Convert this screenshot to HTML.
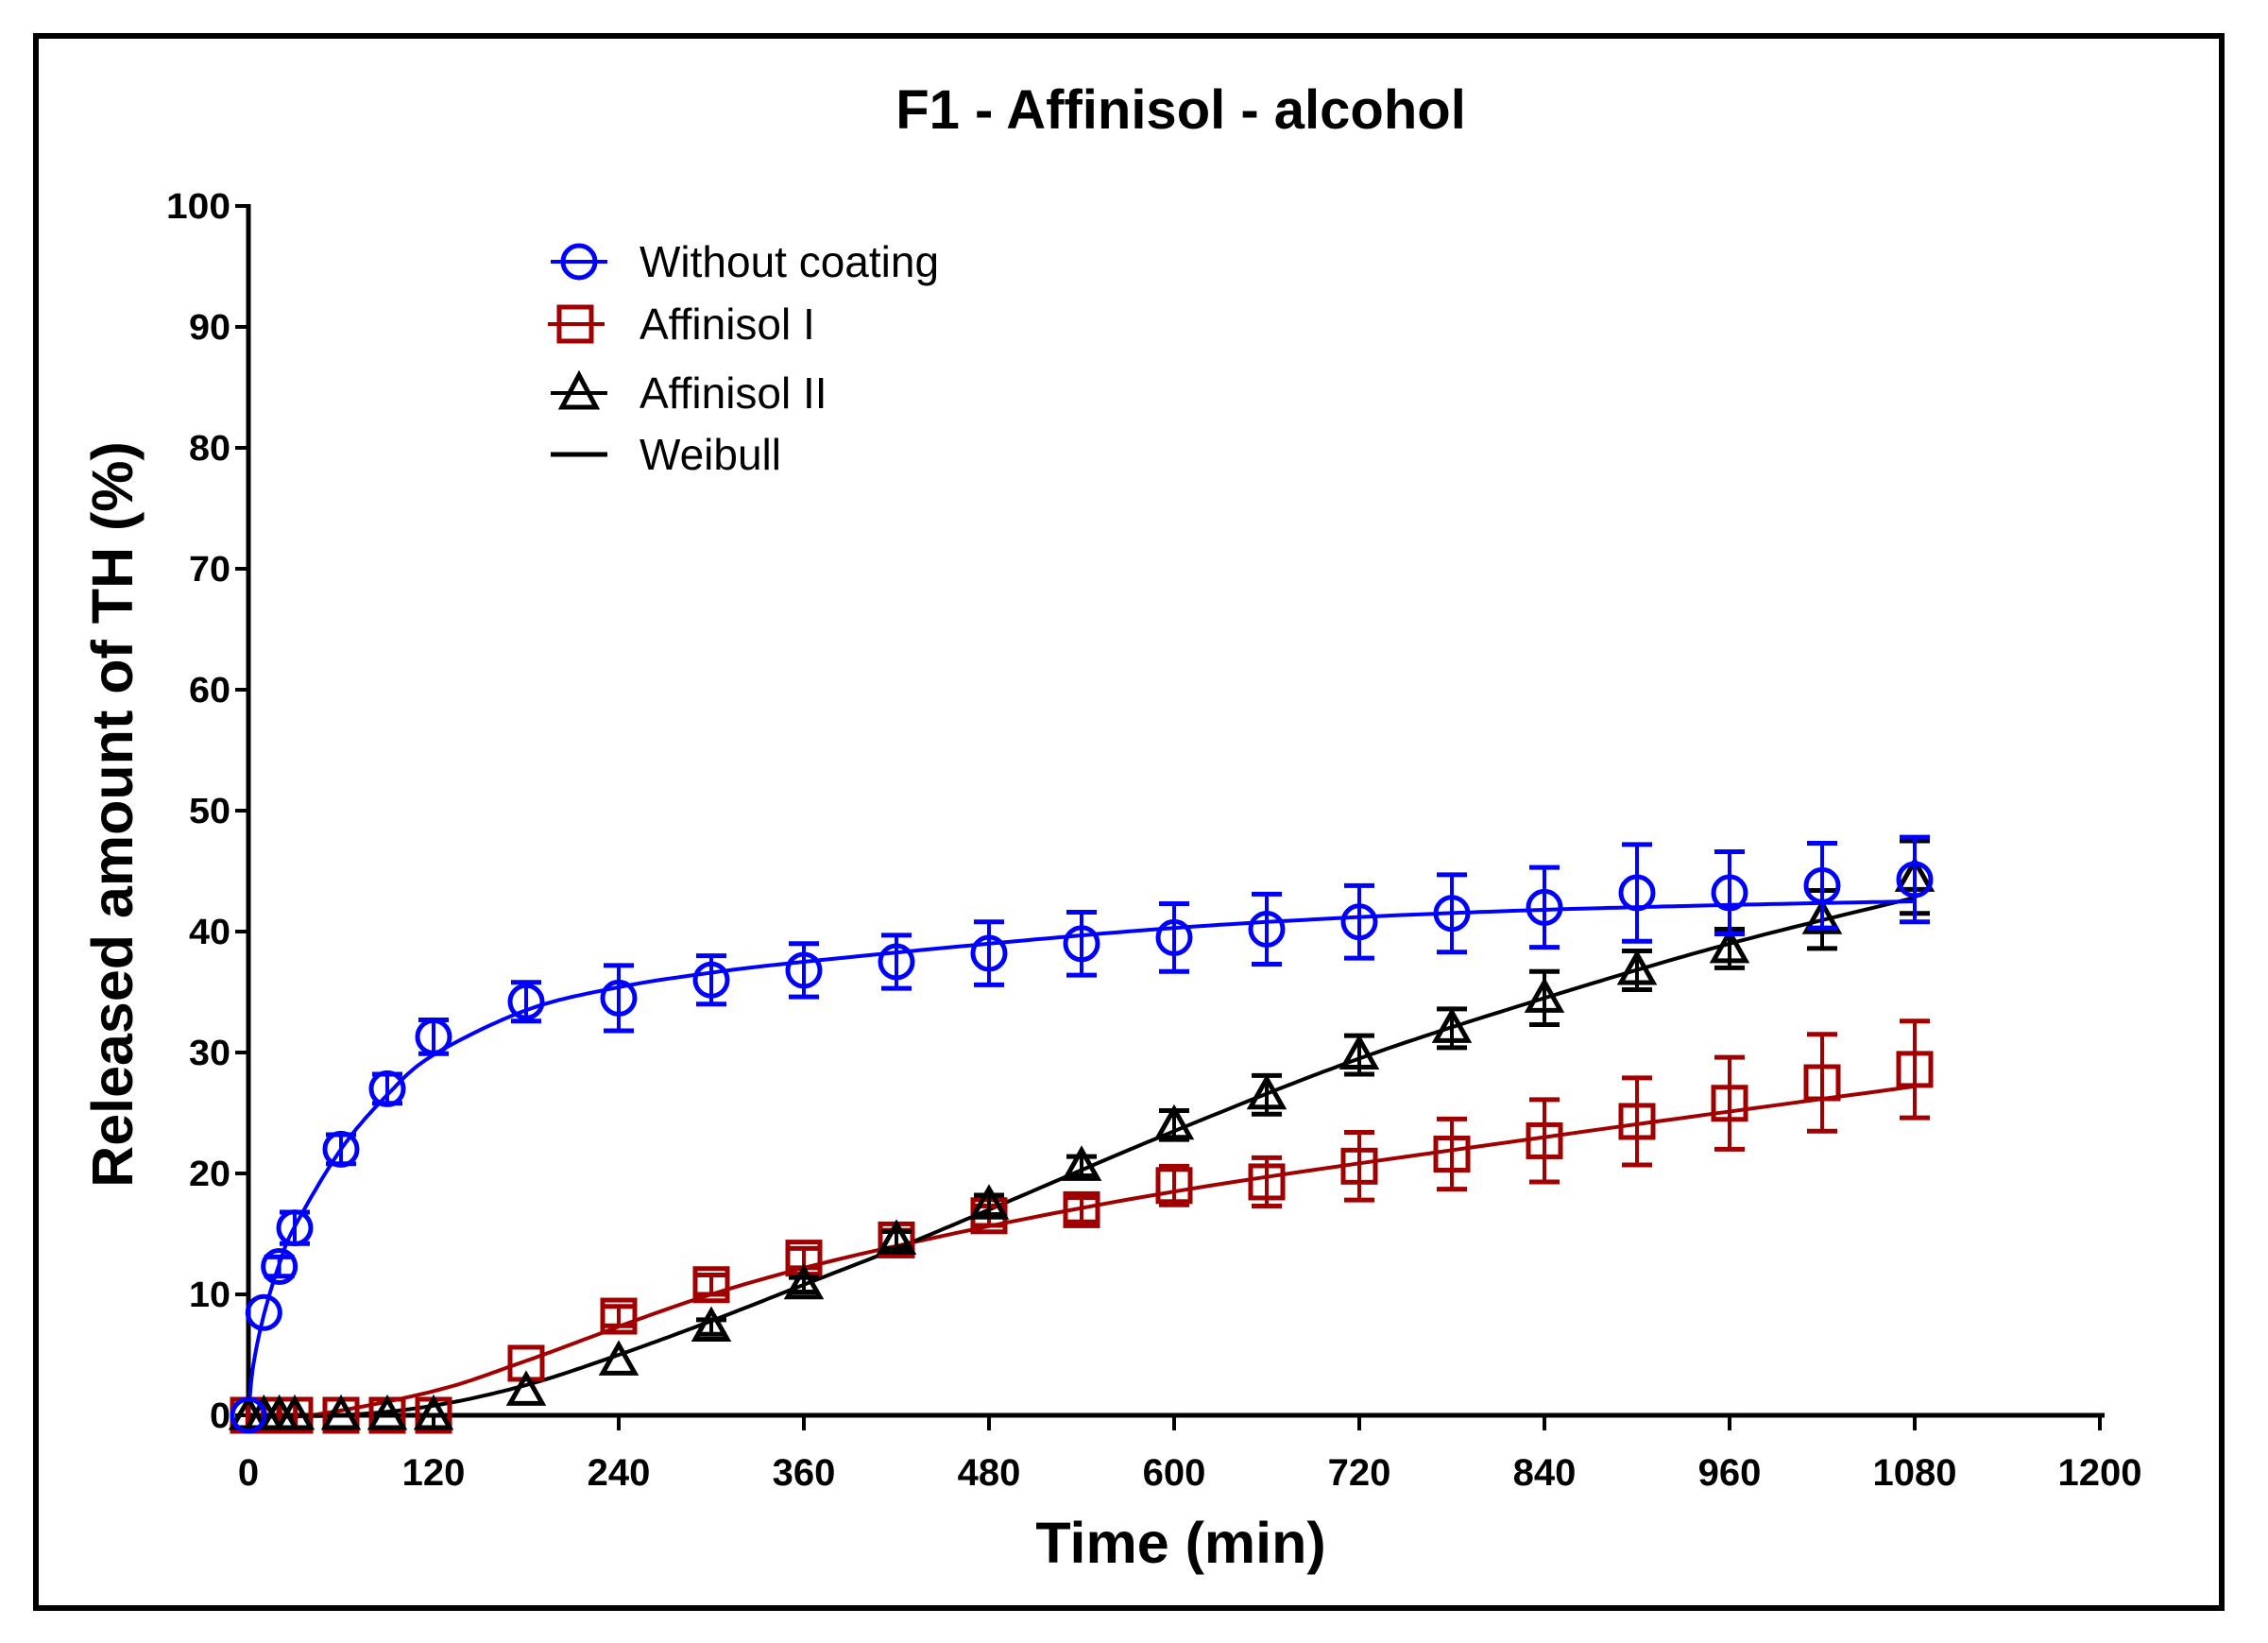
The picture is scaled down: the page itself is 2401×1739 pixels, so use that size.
<!DOCTYPE html>
<html><head><meta charset="utf-8"><style>
html,body{margin:0;padding:0;background:#fff}
svg{display:block}
text{font-family:"Liberation Sans",Arial,sans-serif}
</style></head><body>
<svg id="s" xmlns="http://www.w3.org/2000/svg" width="2401" height="1739" viewBox="0 0 2401 1739">
<rect x="0" y="0" width="2401" height="1739" fill="#fff"/>
<rect x="38" y="38" width="2314" height="1664" fill="none" stroke="#000" stroke-width="6"/>
<text x="1250" y="136" text-anchor="middle" font-size="58" font-weight="bold">F1 - Affinisol - alcohol</text>
<text transform="translate(140,862) rotate(-90)" text-anchor="middle" font-size="61" font-weight="bold">Released amount of TH (%)</text>
<text x="1250" y="1654" text-anchor="middle" font-size="61" font-weight="bold">Time (min)</text>
<g id="g"></g>
</svg>
<script>
var X0=263,XS=196/120,Y0=1498,YS=12.8;
function px(t){return X0+t*XS} function py(v){return Y0-v*YS}
var g=document.getElementById('g'),h='';
h+='<line x1="263" y1="216" x2="263" y2="1500" stroke="#000" stroke-width="5"/>';
h+='<line x1="261" y1="1498" x2="2228" y2="1498" stroke="#000" stroke-width="5"/>';
for(var v=0;v<=100;v+=10){var y=py(v);h+='<line x1="249" y1="'+y+'" x2="263" y2="'+y+'" stroke="#000" stroke-width="4"/>';
h+='<text x="244" y="'+(y+13)+'" text-anchor="end" font-size="38" font-weight="bold" textLength="'+(v==100?68:(v==0?22:44))+'" lengthAdjust="spacingAndGlyphs">'+v+'</text>';}
for(var t=0;t<=1200;t+=120){var x=px(t);h+='<line x1="'+x+'" y1="1498" x2="'+x+'" y2="1514" stroke="#000" stroke-width="4"/>';
h+='<text x="'+x+'" y="1572" text-anchor="middle" font-size="40" font-weight="bold">'+t+'</text>';}
function curve(pts,col){var d='';for(var i=0;i<pts.length;i++){d+=(i?'L':'M')+px(pts[i][0]).toFixed(1)+' '+py(pts[i][1]).toFixed(1)}
return '<path d="'+d+'" fill="none" stroke="'+col+'" stroke-width="4"/>';}
function cr(p){var out=[];for(var i=0;i<p.length-1;i++){var a=p[Math.max(i-1,0)],b=p[i],c=p[i+1],d=p[Math.min(i+2,p.length-1)];
for(var k=0;k<20;k++){var s=k/20,s2=s*s,s3=s2*s;var f=function(j){return 0.5*((2*b[j])+(-a[j]+c[j])*s+(2*a[j]-5*b[j]+4*c[j]-d[j])*s2+(-a[j]+3*b[j]-3*c[j]+d[j])*s3)};out.push([f(0),f(1)]);}}
out.push(p[p.length-1]);return out;}
var bl=cr([[0,0],[3,4],[10,8.3],[20,12.5],[30,15.6],[60,22],[90,26.5],[120,29.8],[180,33.5],[240,35.4],[300,36.6],[360,37.5],[480,39],[600,40.3],[720,41.2],[840,41.8],[960,42.2],[1080,42.5]]);
var red=cr([[0,0],[40,0],[120,2],[180,4.5],[300,10],[420,14],[600,18.5],[840,23],[1080,27.2]]);
var blk=cr([[0,0],[60,0],[120,0.8],[180,2.5],[240,5],[300,7.8],[360,10.8],[420,13.8],[480,17],[600,23.5],[720,29.5],[840,34.5],[960,39],[1080,42.8]]);
h+=curve(red,'#a00000');h+=curve(blk,'#000');h+=curve(bl,'#0000ff');
var T=[0,10,20,30,60,90,120,180,240,300,360,420,480,540,600,660,720,780,840,900,960,1020,1080];
var B=[0,8.5,12.3,15.5,22,27,31.3,34.2,34.5,36,36.8,37.5,38.2,39,39.5,40.2,40.8,41.5,42,43.2,43.2,43.8,44.3];
var Be=[0,0.5,0.8,1.3,1.2,1.2,1.4,1.6,2.7,2,2.2,2.2,2.6,2.6,2.8,2.9,3,3.2,3.3,4,3.4,3.5,3.5];
var R=[0,0,0,0,0,0,0,4.3,8.2,10.8,13,14.5,16.5,17,19,19.3,20.6,21.6,22.7,24.3,25.8,27.5,28.6];
var Re=[0,0,0,0,0,0,0,0.4,0.8,0.8,0.8,0.8,0.8,1,1.6,2,2.8,2.9,3.4,3.6,3.8,4,4];
var K=[0,0,0,0,0,0,0,2,4.5,7.3,10.8,14.5,17.4,20.6,24,26.5,29.8,32,34.5,36.8,38.6,41,44.5];
var Ke=[0,0,0,0,0,0,0,0.3,0.5,0.6,0.6,0.7,0.8,0.8,1.2,1.6,1.6,1.6,2.2,1.6,1.6,2.4,3];
function eb(x,v,e,col){if(e<0.6)return '';var y1=py(v+e),y2=py(v-e);
return '<line x1="'+x+'" y1="'+y1+'" x2="'+x+'" y2="'+y2+'" stroke="'+col+'" stroke-width="4"/><line x1="'+(x-16)+'" y1="'+y1+'" x2="'+(x+16)+'" y2="'+y1+'" stroke="'+col+'" stroke-width="5"/><line x1="'+(x-16)+'" y1="'+y2+'" x2="'+(x+16)+'" y2="'+y2+'" stroke="'+col+'" stroke-width="5"/>';}
for(var i=0;i<T.length;i++){var x=px(T[i]);
h+=eb(x,R[i],Re[i],'#a00000');var y=py(R[i]);h+='<rect x="'+(x-17)+'" y="'+(y-17)+'" width="34" height="34" fill="none" stroke="#a00000" stroke-width="5"/>';}
for(var i=0;i<T.length;i++){var x=px(T[i]);
h+=eb(x,K[i],Ke[i],'#000');var y=py(K[i]);h+='<path d="M'+x+' '+(y-17)+'L'+(x+17)+' '+(y+13)+'L'+(x-17)+' '+(y+13)+'Z" fill="none" stroke="#000" stroke-width="5"/>';}
for(var i=0;i<T.length;i++){var x=px(T[i]);
h+=eb(x,B[i],Be[i],'#0000ff');var y=py(B[i]);h+='<circle cx="'+x+'" cy="'+y+'" r="17" fill="none" stroke="#0000ff" stroke-width="5"/>';}
h+='<line x1="583" y1="277" x2="643" y2="277" stroke="#0000ff" stroke-width="4"/><circle cx="613" cy="277" r="17" fill="none" stroke="#0000ff" stroke-width="5"/>';
h+='<line x1="580" y1="343" x2="640" y2="343" stroke="#a00000" stroke-width="4"/><rect x="592" y="325" width="34" height="36" fill="none" stroke="#a00000" stroke-width="5"/>';
h+='<line x1="583" y1="416" x2="643" y2="416" stroke="#000" stroke-width="4"/><path d="M613 397L631 431L595 431Z" fill="none" stroke="#000" stroke-width="5"/>';
h+='<line x1="583" y1="481" x2="643" y2="481" stroke="#000" stroke-width="5"/>';
var L=[['Without coating',277],['Affinisol I',343],['Affinisol II',416],['Weibull',481]];
for(var i=0;i<4;i++)h+='<text x="677" y="'+(L[i][1]+16)+'" font-size="46">'+L[i][0]+'</text>';
g.innerHTML=h;
</script>
</body></html>
